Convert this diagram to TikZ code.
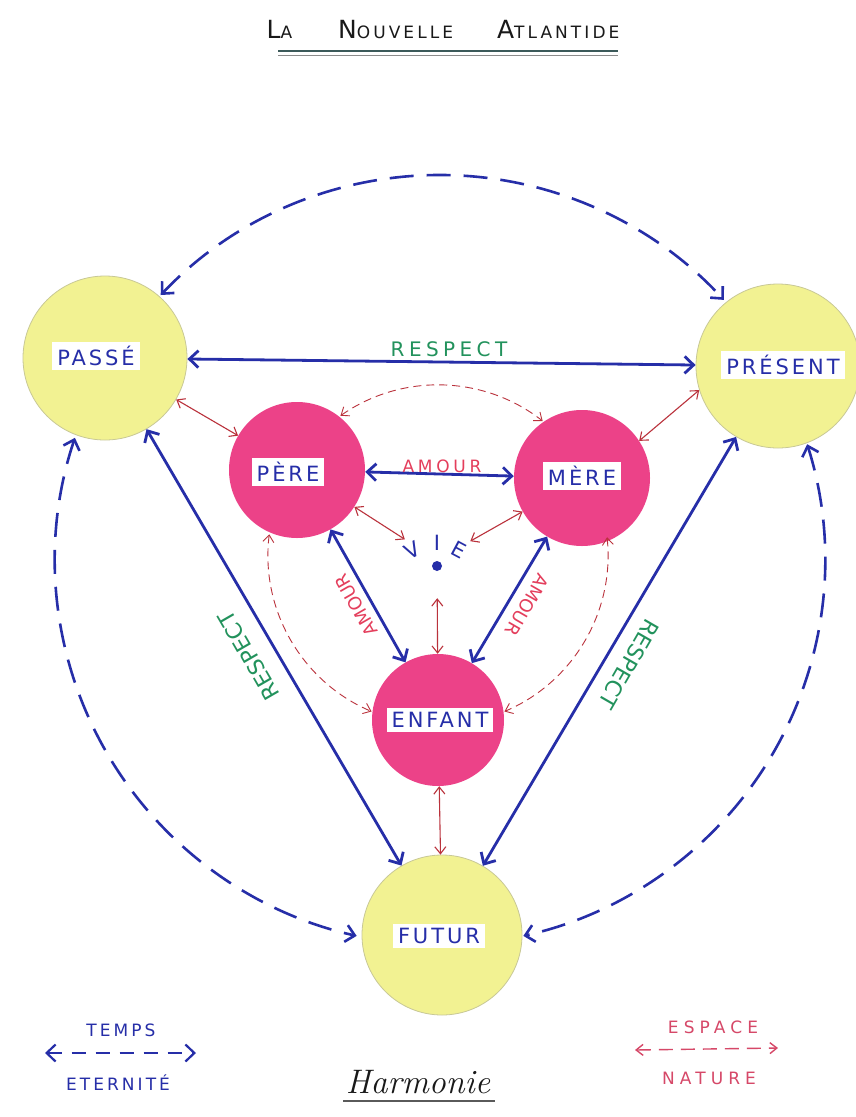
\documentclass[tikz,border=0pt]{standalone}
\usepackage{fontspec}
\newfontfamily\hand[LetterSpace=14]{DejaVu Sans}
\newfontfamily\handw[LetterSpace=22]{DejaVu Sans}
\newfontfamily\handt[LetterSpace=18]{DejaVu Sans}
\newfontfamily\handx[LetterSpace=30]{DejaVu Sans}
\newfontfamily\handp{DejaVu Sans}
\usetikzlibrary{arrows.meta}
\definecolor{yel}{RGB}{242,242,146}
\definecolor{yelline}{RGB}{200,200,150}
\definecolor{pinkc}{RGB}{236,66,136}
\definecolor{bluec}{RGB}{38,46,168}
\definecolor{redc}{RGB}{186,50,60}
\definecolor{amourc}{RGB}{228,62,92}
\definecolor{greenc}{RGB}{34,146,92}
\definecolor{espc}{RGB}{214,72,104}
\definecolor{titlec}{RGB}{25,25,25}
\tikzset{
  sun/.style={circle, fill=yel, draw=yelline, line width=0.8pt, minimum size=164pt, inner sep=0pt},
  heart/.style={circle, fill=pinkc, minimum size=136pt, inner sep=0pt},
  tag/.style={fill=white, text=bluec, inner xsep=5pt, inner ysep=4pt, font=\hand\fontsize{21}{21}\selectfont},
  bluearrow/.style={draw=bluec, line width=2.8pt, {Straight Barb[length=9pt,width=17pt]}-{Straight Barb[length=9pt,width=17pt]}},
  redarrow/.style={draw=redc, line width=1.1pt, {Straight Barb[length=7pt,width=11pt]}-{Straight Barb[length=7pt,width=11pt]}},
  outerdash/.style={bluearrow, line width=2.6pt, dash pattern=on 24pt off 13pt},
  innerdash/.style={redarrow, line width=0.9pt, dash pattern=on 8pt off 5pt},
  respect/.style={text=greenc, font=\handw\fontsize{20}{20}\selectfont, inner sep=1pt},
  respectr/.style={text=greenc, font=\handp\fontsize{22}{22}\selectfont, inner sep=1pt},
  amour/.style={text=amourc, font=\handw\fontsize{17}{17}\selectfont, inner sep=1pt},
  amourr/.style={text=amourc, font=\handp\fontsize{18}{18}\selectfont, inner sep=1pt},
  legblue/.style={text=bluec, font=\handt\fontsize{17}{17}\selectfont},
  legred/.style={text=espc, font=\handx\fontsize{17}{17}\selectfont},
  vieletter/.style={text=bluec, font=\hand\fontsize{21}{21}\selectfont, inner sep=0pt},
}
\begin{document}
\begin{tikzpicture}[x=1pt,y=1pt]
\useasboundingbox (0,0) rectangle (855,-1117);
\fill[white] (0,0) rectangle (855,-1117);

% title
\node[text=titlec, font=\handt] (title) at (443,-30)
  {\fontsize{25}{25}\selectfont L{\fontsize{17}{17}\selectfont A}\hspace{46pt}N{\fontsize{17}{17}\selectfont OUVELLE}\hspace{44pt}A{\fontsize{17}{17}\selectfont TLANTIDE}};
\draw[draw={rgb,255:red,60;green,90;blue,90}, line width=1.4pt] (278,-51) -- (618,-51);
\draw[draw={rgb,255:red,140;green,140;blue,140}, line width=1pt] (278,-55) -- (618,-55);

% circles
\node[sun] (passe) at (105,-358) {};
\node[sun] (present) at (778,-366) {};
\node[sun, minimum size=160pt] (futur) at (442,-935) {};
\node[heart] (pere) at (297,-470) {};
\node[heart] (mere) at (582,-478) {};
\node[heart, minimum size=132pt] (enfant) at (438,-720) {};
\node[circle, minimum size=76pt, inner sep=0pt] (vie) at (437,-560) {};

% tags
\node[tag] (passeT) at (96,-356) {PASSÉ};
\node[tag] (presentT) at (783,-365) {PRÉSENT};
\node[tag] (pereT) at (288,-472) {PÈRE};
\node[tag] (mereT) at (582,-476) {MÈRE};
\node[tag] (enfantT) at (440,-720) {ENFANT};
\node[tag] (futurT) at (439,-936) {FUTUR};

% vie
\fill[bluec] (vie.center) ++(0,-6) circle (5pt);
\node[vieletter, rotate=28] (vV) at (412,-550) {V};
\node[vieletter] (vI) at (437,-543) {I};
\node[vieletter, rotate=-28] (vE) at (459,-550) {E};

% outer dashed arcs
\coordinate (O) at (440,-560);
\draw[outerdash] ([shift={(136.5:385)}]O) arc[start angle=136.5, end angle=42.5, radius=385];
\draw[outerdash] ([shift={(161.5:385)}]O) arc[start angle=161.5, end angle=257.5, radius=385];
\draw[outerdash] ([shift={(17.5:385)}]O) arc[start angle=17.5, end angle=-77.5, radius=385];

% inner dashed arcs
\coordinate (C) at (438,-555);
\draw[innerdash] ([shift={(125:170)}]C) arc[start angle=125, end angle=52, radius=170];
\draw[innerdash] ([shift={(173:170)}]C) arc[start angle=173, end angle=247, radius=170];
\draw[innerdash] ([shift={(6:170)}]C) arc[start angle=6, end angle=-67, radius=170];

% blue connectors
\draw[bluearrow] (passe) -- (present);
\draw[bluearrow] (pere) -- (mere);
\draw[bluearrow] (pere) -- (enfant);
\draw[bluearrow] (mere) -- (enfant);
\draw[bluearrow] (passe) -- (futur);
\draw[bluearrow] (present) -- (futur);

% red connectors
\draw[redarrow] (passe) -- (pere);
\draw[redarrow] (mere.33) -- (present.197);
\draw[redarrow] (pere) -- (vie);
\draw[redarrow] (mere) -- (vie);
\draw[redarrow] (vie) -- (enfant);
\draw[redarrow] (enfant) -- (futur);

% labels
\node[respect] (r1) at (449,-349) {RESPECT};
\node[respectr, rotate=120] (r2) at (249,-656) {RESPECT};
\node[respectr, rotate=240] (r3) at (629,-664) {RESPECT};
\node[amour] (a1) at (442,-466) {AMOUR};
\node[amourr, rotate=120] (a2) at (356,-605) {AMOUR};
\node[amourr, rotate=240] (a3) at (527,-605) {AMOUR};

% legends
\coordinate (tl) at (45,-1053);
\coordinate (tr) at (196,-1053);
\draw[bluearrow, line width=2.2pt, dash pattern=on 14pt off 10pt] (tl) -- (tr);
\node[legblue] (temps) at (121,-1030) {TEMPS};
\node[legblue] (etern) at (118,-1083) {ETERNITÉ};
\coordinate (el) at (635,-1050);
\coordinate (er) at (778,-1048);
\draw[redarrow, draw=espc, line width=1.4pt, dash pattern=on 14pt off 8pt] (el) -- (er);
\node[legred] (espace) at (713,-1027) {ESPACE};
\node[legred] (nature) at (709,-1078) {NATURE};

% harmonie
\node[text=titlec, font=\itshape\fontsize{34}{34}\selectfont] (harm) at (418,-1082) {Harmonie};
\draw[draw={rgb,255:red,90;green,90;blue,90}, line width=1.6pt] (343,-1101) -- (495,-1101);
\end{tikzpicture}
\end{document}
